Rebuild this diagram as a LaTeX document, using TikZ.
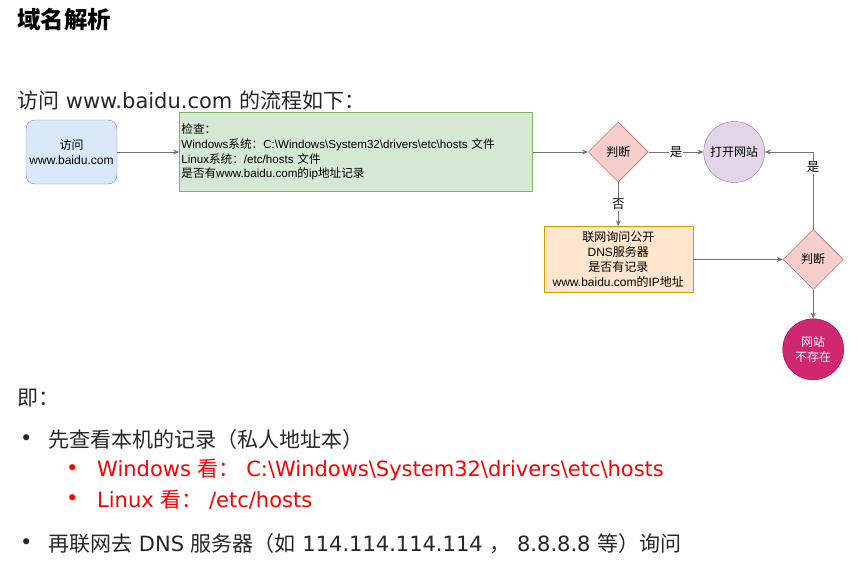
\documentclass[tikz,border=0pt]{standalone}
\usepackage{fontspec}
\setmainfont{DejaVu Sans}
\newfontfamily\cjk{Noto Sans CJK SC}
\newfontfamily\drawiofont{Liberation Sans}
\usetikzlibrary{shapes.geometric, arrows.meta, positioning}
\newcommand{\zh}[1]{{\cjk #1}}
\newcommand{\bks}{\textbackslash}
\definecolor{visitfill}{HTML}{DAE8FC}
\definecolor{visitdraw}{HTML}{6C8EBF}
\definecolor{hostsfill}{HTML}{D5E8D4}
\definecolor{hostsdraw}{HTML}{82B366}
\definecolor{judgefill}{HTML}{F8CECC}
\definecolor{judgedraw}{HTML}{B85450}
\definecolor{openfill}{HTML}{E1D5E7}
\definecolor{opendraw}{HTML}{9673A6}
\definecolor{dnsfill}{HTML}{FFE6CC}
\definecolor{dnsdraw}{HTML}{D79B00}
\definecolor{gonefill}{HTML}{CF2870}
\definecolor{gonedraw}{HTML}{A50040}
\begin{document}
\begin{tikzpicture}[
    x=1pt, y=-1pt,
    node distance=56pt,
    flow/.style={
        font=\drawiofont\fontsize{12}{15}\selectfont,
        align=center, inner sep=2pt
    },
    visitbox/.style={
        flow, rectangle, rounded corners=9pt,
        draw=visitdraw, fill=visitfill,
        minimum width=91pt, minimum height=64pt
    },
    hostsbox/.style={
        flow, rectangle, draw=hostsdraw, fill=hostsfill,
        font=\drawiofont\fontsize{11.6}{14.6}\selectfont,
        text width=349pt, align=left, minimum height=79pt
    },
    dnsbox/.style={
        flow, rectangle, draw=dnsdraw, fill=dnsfill,
        minimum width=149pt, minimum height=66pt
    },
    judge/.style={
        flow, diamond, aspect=1, inner sep=0pt,
        draw=judgedraw, fill=judgefill,
        minimum width=60pt, minimum height=60pt
    },
    site/.style={flow, circle, inner sep=0pt, minimum size=61pt},
    arrow/.style={-{Stealth[length=6pt,width=5pt]}, black!55, line width=0.9pt},
    lbl/.style={fill=white, text=black, inner sep=1pt, font=\cjk\fontsize{12.5}{14}\selectfont},
    line/.style={anchor=west, inner sep=0pt, text=black!85,
        font=\fontsize{21}{25}\selectfont}
]
\useasboundingbox (0,0) rectangle (859,573);

\node[line, text=black, font=\cjk\bfseries\fontsize{23.5}{27}\selectfont] (title) at (17,20) {域名解析};
\node[line] (intro) at (17,100) {\zh{访问} www.baidu.com \zh{的流程如下：}};

\node[visitbox] (visit) at (71.5,152) {\zh{访问}\\www.baidu.com};
\node[hostsbox, right=62pt of visit] (hosts) {\zh{检查：}\\Windows\zh{系统：}C:\bks Windows\bks System32\bks drivers\bks etc\bks hosts \zh{文件}\\Linux\zh{系统：}/etc/hosts \zh{文件}\\\zh{是否有}www.baidu.com\zh{的}ip\zh{地址记录}};
\node[judge, right=55.5pt of hosts] (judge1) {\zh{判断}};
\node[site, draw=opendraw, fill=openfill, right=55pt of judge1] (open) {\zh{打开网站}};
\node[dnsbox, below=44pt of judge1] (dns) {\zh{联网询问公开}\\DNS\zh{服务器}\\\zh{是否有记录}\\www.baidu.com\zh{的}IP\zh{地址}};
\node[judge, right=90pt of dns] (judge2) {\zh{判断}};
\node[site, draw=gonedraw, fill=gonefill, text=white, below=29pt of judge2] (gone) {\zh{网站}\\\zh{不存在}};

\draw[arrow] (visit) -- (hosts);
\draw[arrow] (hosts) -- (judge1);
\draw[arrow] (judge1) -- node[lbl] {是} (open);
\draw[arrow] (judge1) -- node[lbl] {否} (dns);
\draw[arrow] (dns) -- (judge2);
\draw[arrow] (judge2.north) |- node[lbl, pos=0.4] {是} (open.east);
\draw[arrow] (judge2) -- (gone);

\node[line] (namely) at (17,398) {\zh{即：}};
\node[line] (dot1) at (20,440) {•};
\node[line] (local) at (48,440) {\zh{先查看本机的记录（私人地址本）}};
\node[line, text=red] (dot2) at (66,470) {•};
\node[line, text=red] (win) at (97,470) {Windows \zh{看：} C:\bks Windows\bks System32\bks drivers\bks etc\bks hosts};
\node[line, text=red] (dot3) at (66,500) {•};
\node[line, text=red] (linux) at (97,500) {Linux \zh{看：} /etc/hosts};
\node[line] (dot4) at (20,544) {•};
\node[line] (ask) at (48,544) {\zh{再联网去} DNS \zh{服务器（如} 114.114.114.114 \zh{，} 8.8.8.8 \zh{等）询问}};
\end{tikzpicture}
\end{document}
